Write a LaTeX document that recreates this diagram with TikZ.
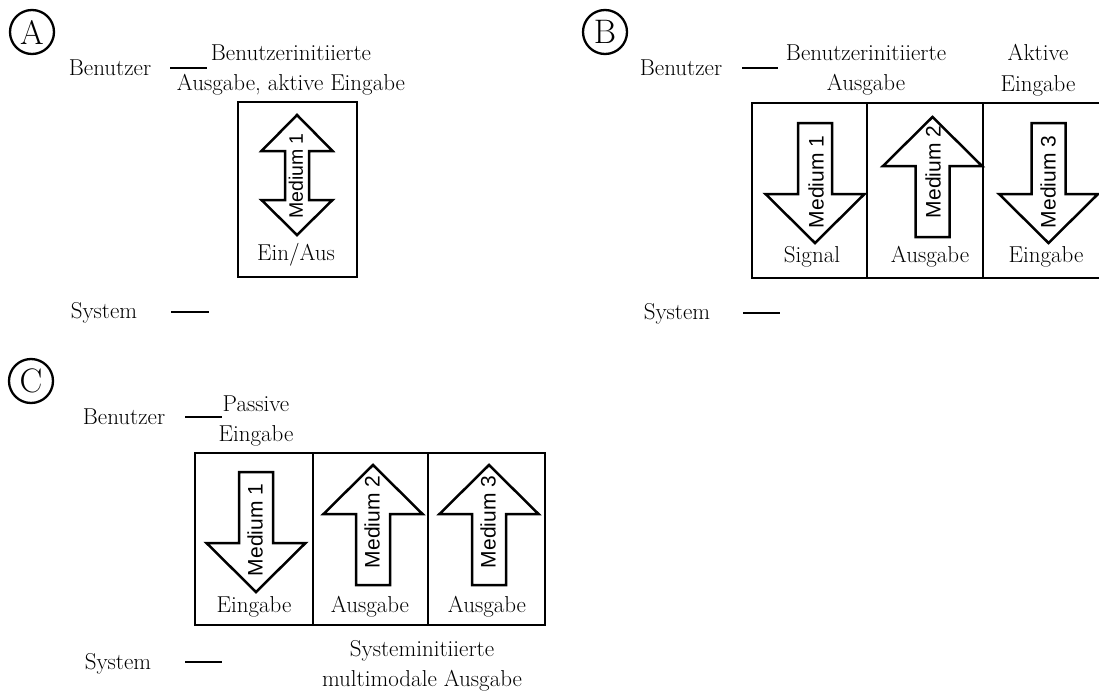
\documentclass[tikz,border=0pt]{standalone}
\usepackage{fontspec}
\newfontfamily\medfont{Liberation Sans}

\tikzset{
    txt/.style={font=\fontsize{23}{30.5}\selectfont, align=center, inner sep=0pt},
    lbl/.style={txt, text height=15pt, text depth=5pt},
    tag/.style={draw, circle, line width=2.3pt, minimum size=44pt, inner sep=0pt, font=\fontsize{34}{34}\selectfont},
    cell/.style={draw, line width=2.6pt, inner sep=0pt},
    level/.style={line width=2.6pt},
    blk/.style={draw, line width=2.5pt, fill=white},
    med/.style={font=\medfont\fontsize{21}{22}\selectfont, rotate=90, inner sep=0pt},
    pics/downarr/.style={code={
        \draw[blk] (0,0) -- (-49.5,-49) -- (-17,-49) -- (-17,-120) -- (17,-120) -- (17,-49) -- (49.5,-49) -- cycle;
    }},
}

\begin{document}
\begin{tikzpicture}[x=1pt, y=-1pt]
    \useasboundingbox (0,0) rectangle (1099,690);

    % A: one medium, both directions
    \node[tag] (circA) at (32,32) {A};
    \node[lbl] (benA) at (110,71) {Benutzer};
    \node[lbl] (sysA) at (104,313) {System};
    \coordinate (benA1) at (170,68);
    \coordinate (benA2) at (207,68);
    \coordinate (sysA1) at (171,312);
    \coordinate (sysA2) at (209,312);
    \draw[level] (benA1) -- (benA2);
    \draw[level] (sysA1) -- (sysA2);
    \node[txt] (headA) at (291,70) {Benutzerinitiierte\\Ausgabe, aktive Eingabe};
    \node[cell, minimum width=119pt, minimum height=175pt] (boxA) at (297.5,189.5) {};
    \draw[blk] (297,115) -- (332.5,151) -- (309,151) -- (309,200) -- (332.5,200) -- (297,235)
        -- (261.5,200) -- (285,200) -- (285,151) -- (261.5,151) -- cycle;
    \node[med, font=\medfont\fontsize{19.5}{20}\selectfont] (medA) at (296,176) {Medium 1};
    \node[lbl] (ioA) at (296,255) {Ein/Aus};

    % B
    \node[tag] (circB) at (605,32) {B};
    \node[lbl] (benB) at (681,71) {Benutzer};
    \node[lbl] (sysB) at (677,314) {System};
    \coordinate (benB1) at (742,68);
    \coordinate (benB2) at (778,68);
    \coordinate (sysB1) at (743,313);
    \coordinate (sysB2) at (780,313);
    \draw[level] (benB1) -- (benB2);
    \draw[level] (sysB1) -- (sysB2);
    \node[txt] (headB1) at (866,70) {Benutzerinitiierte\\Ausgabe};
    \node[txt] (headB2) at (1038,70) {Aktive\\Eingabe};
    \node[cell, minimum width=115pt, minimum height=175pt] (cellB1) at (809.5,190.5) {};
    \node[cell, minimum width=116pt, minimum height=175pt] (cellB2) at (925,190.5) {};
    \node[cell, minimum width=118pt, minimum height=175pt] (cellB3) at (1042,190.5) {};
    \pic at (815,243) {downarr};
    \pic[rotate=180] at (932.5,117) {downarr};
    \pic at (1048.5,243) {downarr};
    \node[med] (medB1) at (816,182) {Medium 1};
    \node[med] (medB2) at (933,172) {Medium 2};
    \node[med] (medB3) at (1048,182) {Medium 3};
    \node[lbl] (ioB1) at (812,257) {Signal};
    \node[lbl] (ioB2) at (930,257) {Ausgabe};
    \node[lbl] (ioB3) at (1046,257) {Eingabe};

    % C
    \node[tag] (circC) at (31,381) {C};
    \node[lbl] (benC) at (124,419) {Benutzer};
    \node[lbl] (sysC) at (118,664) {System};
    \coordinate (benC1) at (185,417);
    \coordinate (benC2) at (222,417);
    \coordinate (sysC1) at (185,662);
    \coordinate (sysC2) at (222,662);
    \draw[level] (benC1) -- (benC2);
    \draw[level] (sysC1) -- (sysC2);
    \node[txt] (headC) at (256,421) {Passive\\Eingabe};
    \node[cell, minimum width=118pt, minimum height=172pt] (cellC1) at (254,539) {};
    \node[cell, minimum width=115pt, minimum height=172pt] (cellC2) at (370.5,539) {};
    \node[cell, minimum width=117pt, minimum height=172pt] (cellC3) at (486.5,539) {};
    \pic at (256,592) {downarr};
    \pic[rotate=180] at (373,465) {downarr};
    \pic[rotate=180] at (489,465) {downarr};
    \node[med] (medC1) at (255,530) {Medium 1};
    \node[med] (medC2) at (372,522) {Medium 2};
    \node[med] (medC3) at (488,522) {Medium 3};
    \node[lbl] (ioC1) at (254,607) {Eingabe};
    \node[lbl] (ioC2) at (370,607) {Ausgabe};
    \node[lbl] (ioC3) at (487,607) {Ausgabe};
    \node[txt] (footC) at (422,666) {Systeminitiierte\\multimodale Ausgabe};
\end{tikzpicture}
\end{document}
